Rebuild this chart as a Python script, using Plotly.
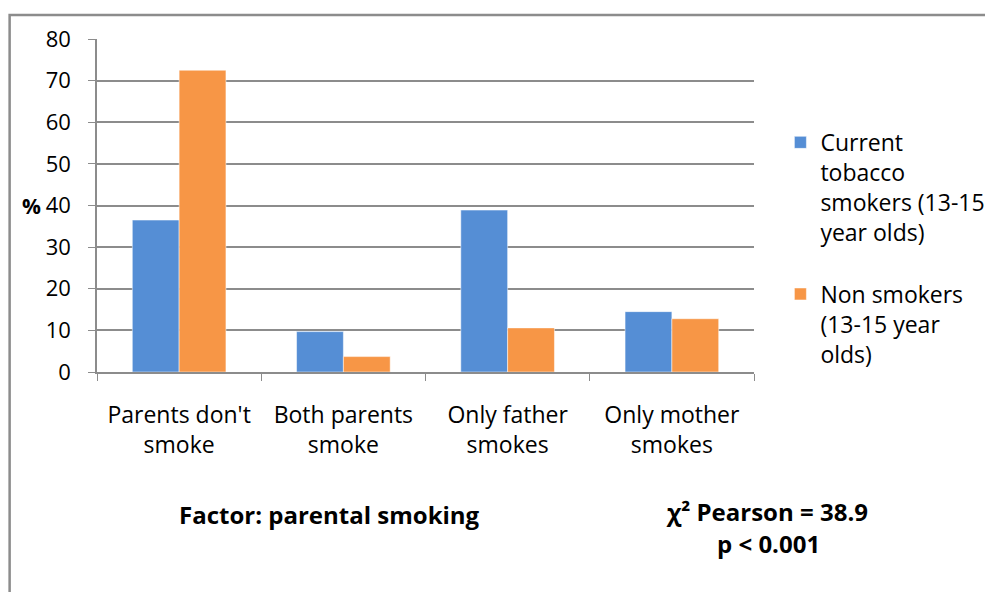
import plotly.graph_objects as go

categories = ["Parents don't<br>smoke", "Both parents<br>smoke", "Only father<br>smokes", "Only mother<br>smokes"]
smokers = [36.5, 9.7, 38.9, 14.5]
non_smokers = [72.5, 3.7, 10.6, 12.8]
series_names = ["Current<br>tobacco<br>smokers (13-15<br>year olds)", "Non smokers<br>(13-15 year<br>olds)"]
y_ticks = [0, 10, 20, 30, 40, 50, 60, 70, 80]

FONT = "Open Sans"
GRID = "#8c8c8c"

fig = go.Figure()
fig.add_trace(go.Bar(x=categories, y=smokers, name=series_names[0], legendgroup="a",
                     marker=dict(color="#558ED5", line=dict(color="#ffffff", width=0.5))))
fig.add_trace(go.Bar(x=categories, y=non_smokers, name=series_names[1], legendgroup="b",
                     marker=dict(color="#F79646", line=dict(color="#ffffff", width=0.5))))

fig.update_layout(
    width=993, height=592,
    margin=dict(l=89, r=246, t=31, b=228),
    paper_bgcolor="white", plot_bgcolor="white",
    font=dict(family=FONT, size=23, color="#000000"),
    barmode="group", bargap=0.43, bargroupgap=0,
    showlegend=True,
    legend=dict(x=1.0386, y=0.754, xanchor="left", yanchor="top", valign="top",
                font=dict(family=FONT, size=23), tracegroupgap=29,
                itemwidth=30, traceorder="grouped"),
    xaxis=dict(showline=True, linecolor=GRID, linewidth=1.5,
               ticks="outside", tickson="boundaries", ticklen=7, tickcolor=GRID,
               ticklabelstandoff=22, showgrid=False,
               tickfont=dict(family=FONT, size=23)),
    yaxis=dict(range=[0, 80], tickvals=y_ticks, showline=True, linecolor=GRID, linewidth=1.5,
               ticks="outside", ticklen=7, tickcolor=GRID, ticklabelstandoff=13,
               showgrid=True, gridcolor=GRID, gridwidth=1.5, zeroline=False,
               tickfont=dict(family=FONT, size=22)),
    shapes=[dict(type="rect", xref="paper", yref="paper", x0=-0.133, x1=1.5, y0=-0.8, y1=1.072,
                 line=dict(color="#8c8c8c", width=2.5), fillcolor="rgba(0,0,0,0)", layer="below")],
    annotations=[
        dict(text="<b>%</b>", xref="paper", yref="paper", x=-0.117, y=0.5, xanchor="left", yanchor="middle",
             showarrow=False, font=dict(family=FONT, size=21)),
        dict(text="<b>Factor: parental smoking</b>", xref="paper", yref="paper", x=0.354, y=-0.429,
             xanchor="center", yanchor="middle", showarrow=False, font=dict(family=FONT, size=24)),
        dict(text="<b>χ² Pearson = 38.9</b>", xref="paper", yref="paper", x=1.0198, y=-0.42,
             xanchor="center", yanchor="middle", showarrow=False, font=dict(family=FONT, size=24)),
        dict(text="<b>p < 0.001</b>", xref="paper", yref="paper", x=1.0228, y=-0.515,
             xanchor="center", yanchor="middle", showarrow=False, font=dict(family=FONT, size=24)),
    ],
)

fig.write_html("out.html")
